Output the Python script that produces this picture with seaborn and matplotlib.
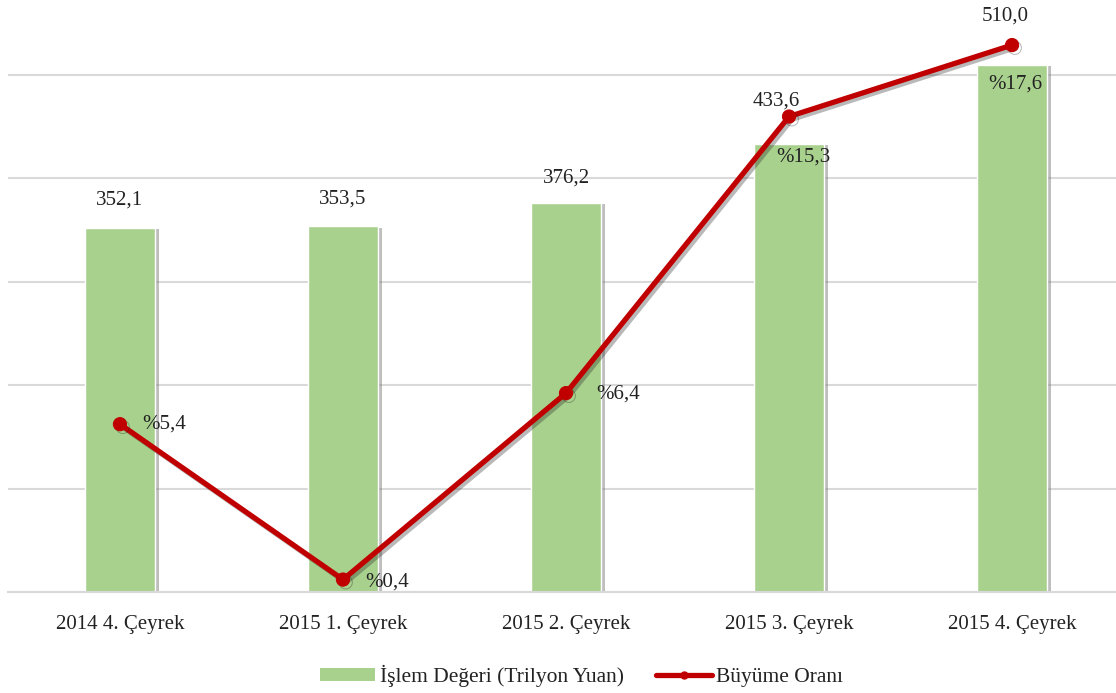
import seaborn as sns
import matplotlib.pyplot as plt
import matplotlib.patheffects as pe
from matplotlib.patches import Patch
from matplotlib.lines import Line2D
import pandas as pd

# Datos
ceyrekler = ["2014 4. Çeyrek", "2015 1. Çeyrek", "2015 2. Çeyrek", "2015 3. Çeyrek", "2015 4. Çeyrek"]
islem_degeri = [352.1, 353.5, 376.2, 433.6, 510.0]
buyume_orani = [5.4, 0.4, 6.4, 15.3, 17.6]

df = pd.DataFrame({"ceyrek": ceyrekler, "deger": islem_degeri, "oran": buyume_orani})

GREEN = "#a9d18e"
RED = "#c00000"
GRID = "#d9d9d9"

sns.set_theme(style="white")
plt.rcParams["font.family"] = ["Liberation Serif", "DejaVu Serif"]

fig = plt.figure(figsize=(11.16, 6.93), dpi=100)
ax = fig.add_axes([8 / 1116, 101 / 693, 1 - 8 / 1116, 592 / 693])

# Barras: valor de la transacción
sns.barplot(data=df, x="ceyrek", y="deger", color=GREEN, width=0.315, saturation=1,
            ax=ax, zorder=2)
for bar in ax.patches:
    bar.set_path_effects([pe.withSimplePatchShadow(offset=(3, -1), shadow_rgbFace="#7f7f7f", alpha=0.5)])

ax.set_ylim(0, 572.5)
ax.set_xlim(-0.502, 4.466)
ax.set_yticks([0, 100, 200, 300, 400, 500])
ax.set_yticklabels([])
ax.yaxis.grid(True, color=GRID, linewidth=1.5)
ax.set_axisbelow(True)
for s in ["top", "right", "left"]:
    ax.spines[s].set_visible(False)
ax.spines["bottom"].set_color(GRID)
ax.spines["bottom"].set_linewidth(1.5)
ax.tick_params(axis="x", length=0, pad=16.5, labelsize=15, labelcolor="#222222")
ax.tick_params(axis="y", length=0)
ax.set_xlabel("")
ax.set_ylabel("")

# Línea: tasa de crecimiento (eje secundario)
ax2 = ax.twinx()
sns.lineplot(data=df, x="ceyrek", y="oran", color=RED, linewidth=3.8, marker="o",
             markersize=9.5, markeredgecolor=RED, ax=ax2, sort=False,
             path_effects=[pe.SimpleLineShadow(offset=(2, -2), alpha=0.3), pe.Normal()])
ax2.set_ylim(0, 19.05)
ax2.set_xlim(-0.502, 4.466)
ax2.axis("off")

# Etiquetas de las barras (desplazamientos en puntos)
bar_offsets = [(0, 20), (0, 20), (0, 18), (-9, 31), (-5, 35)]
for i, (v, off) in enumerate(zip(islem_degeri, bar_offsets)):
    ax.annotate(f"{v:.1f}".replace(".", ","), (i, v), xytext=off, textcoords="offset points",
                ha="center", va="center", fontsize=15, color="#222222")

# Etiquetas de la línea
line_offsets = [(16, 0), (16, -2), (22, -1), (-9, -29), (-17, -28)]
for i, (v, off) in enumerate(zip(buyume_orani, line_offsets)):
    ax2.annotate("%" + f"{v:.1f}".replace(".", ","), (i, v), xytext=off, textcoords="offset points",
                 ha="left", va="center", fontsize=15, color="#222222", zorder=5)

# Leyenda
handles = [
    Patch(facecolor=GREEN, edgecolor="none", label="İşlem Değeri (Trilyon Yuan)"),
    Line2D([0], [0], color=RED, linewidth=3.8, marker="o", markersize=5, label="Büyüme Oranı"),
]
fig.legend(handles=handles, loc="center", bbox_to_anchor=(0.521, 1 - 676 / 693), ncol=2,
           frameon=False, fontsize=15.5, handlelength=2.6, handleheight=0.6,
           handletextpad=0.2, columnspacing=1.5, labelcolor="#222222")

fig.savefig("out.png", dpi=100)
